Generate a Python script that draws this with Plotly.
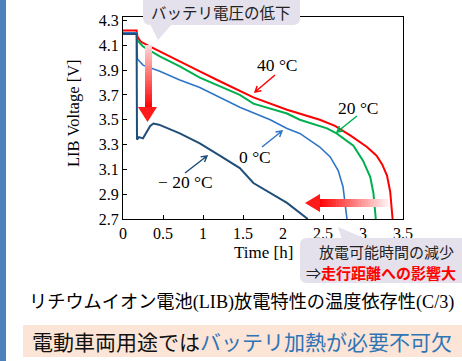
import plotly.graph_objects as go

# ---------------- data ----------------
t_40 = [0, 0.17, 0.18, 0.22, 0.34, 0.46, 0.71, 0.96, 1.21, 1.46, 1.63, 2.05, 2.46, 2.65, 2.85, 3.05, 3.17, 3.24, 3.30, 3.34, 3.37]
v_40 = [4.22, 4.22, 4.17, 4.13, 4.09, 4.05, 3.97, 3.89, 3.81, 3.73, 3.68, 3.58, 3.50, 3.45, 3.37, 3.28, 3.21, 3.14, 3.05, 2.92, 2.70]

t_20 = [0, 0.17, 0.18, 0.25, 0.46, 0.71, 0.96, 1.21, 1.46, 1.63, 2.05, 2.21, 2.55, 2.67, 2.88, 3.00, 3.09, 3.13, 3.16]
v_20 = [4.20, 4.20, 4.14, 4.09, 4.01, 3.93, 3.84, 3.77, 3.70, 3.63, 3.55, 3.50, 3.43, 3.39, 3.29, 3.17, 3.04, 2.91, 2.70]

t_0 = [0, 0.17, 0.18, 0.25, 0.46, 0.71, 0.96, 1.21, 1.46, 1.84, 2.05, 2.21, 2.46, 2.59, 2.69, 2.75, 2.80]
v_0 = [4.20, 4.20, 3.99, 3.94, 3.89, 3.82, 3.76, 3.68, 3.60, 3.50, 3.43, 3.39, 3.28, 3.20, 3.09, 2.96, 2.70]

t_m20 = [0, 0.17, 0.175, 0.20, 0.25, 0.30, 0.34, 0.38, 0.45, 0.71, 0.96, 1.21, 1.46, 1.63, 2.05, 2.31]
v_m20 = [4.19, 4.19, 3.34, 3.36, 3.35, 3.40, 3.45, 3.47, 3.46, 3.39, 3.31, 3.21, 3.11, 2.99, 2.83, 2.70]

x_ticks = [0, 0.5, 1, 1.5, 2, 2.5, 3, 3.5]
x_tick_labels = ["0", "0.5", "1", "1.5", "2", "2.5", "3", "3.5"]
y_ticks = [2.7, 2.9, 3.1, 3.3, 3.5, 3.7, 3.9, 4.1, 4.3]
y_tick_labels = ["2.7", "2.9", "3.1", "3.3", "3.5", "3.7", "3.9", "4.1", "4.3"]

series_labels = ["40 °C", "20 °C", "0 °C", "− 20 °C"]

# ---------------- layout geometry (pixels) ----------------
W, H = 462, 361
L, R, T, B = 123, 403, 17, 219

def P(x, y):
    return ((x - L) / (R - L), (B - y) / (B - T))

def path(cmds):
    s = ""
    for c in cmds:
        if c[0] == "Z":
            s += " Z"
            continue
        pts = c[1:]
        conv = []
        for i in range(0, len(pts), 2):
            px, py = P(pts[i], pts[i + 1])
            conv.append(f"{px:.5f},{py:.5f}")
        s += f" {c[0]} " + " ".join(conv)
    return s.strip()

def rrect(x0, y0, x1, y1, r):
    return path([("M", x0 + r, y0), ("L", x1 - r, y0), ("Q", x1, y0, x1, y0 + r),
                 ("L", x1, y1 - r), ("Q", x1, y1, x1 - r, y1), ("L", x0 + r, y1),
                 ("Q", x0, y1, x0, y1 - r), ("L", x0, y0 + r), ("Q", x0, y0, x0 + r, y0), ("Z",)])

shapes = []
annotations = []

def add_shape(p, fill, line_color=None, width=0, layer="above"):
    shapes.append(dict(type="path", xref="paper", yref="paper", path=p, fillcolor=fill,
                       line=dict(color=line_color or "rgba(0,0,0,0)", width=width), layer=layer))

def add_text(x, y, text, size, color="black", family="Liberation Serif, Noto Sans CJK JP",
             xanchor="center", angle=0):
    px, py = P(x, y)
    annotations.append(dict(x=px, y=py, xref="paper", yref="paper", text=text, showarrow=False,
                            xanchor=xanchor, yanchor="middle", textangle=angle,
                            font=dict(size=size, color=color, family=family)))

def v_arrow(tx, ty, hx, hy, color, hl=6.5):
    import math
    dx, dy = hx - tx, hy - ty
    n = math.hypot(dx, dy)
    ux, uy = dx / n, dy / n
    ang = math.radians(30)
    def rot(a):
        return (ux * math.cos(a) - uy * math.sin(a), ux * math.sin(a) + uy * math.cos(a))
    a1 = rot(ang); a2 = rot(-ang)
    p = path([("M", tx, ty), ("L", hx, hy), ("M", hx - hl * a1[0], hy - hl * a1[1]),
              ("L", hx, hy), ("L", hx - hl * a2[0], hy - hl * a2[1])])
    shapes.append(dict(type="path", xref="paper", yref="paper", path=p,
                       line=dict(color=color, width=1.5), layer="above"))

def mix(f):
    g = int(255 * (1 - f))
    return f"rgb(255,{g},{g})"

# ---------------- figure ----------------
fig = go.Figure()
for t, v, c, w in [(t_40, v_40, "#ff0000", 2), (t_20, v_20, "#00b050", 2),
                   (t_0, v_0, "#2e75c6", 1.6), (t_m20, v_m20, "#1f4e79", 2)]:
    fig.add_trace(go.Scatter(x=t, y=v, mode="lines", line=dict(color=c, width=w),
                             showlegend=False, hoverinfo="skip"))

# left blue stripe
add_shape(path([("M", 0, 0), ("L", 6, 0), ("L", 6, H), ("L", 0, H), ("Z",)]), "#4f81bd")
# bottom peach box
add_shape(path([("M", 23, 325), ("L", 462, 325), ("L", 462, 357), ("L", 23, 357), ("Z",)]), "#fce4d6")

# top callout
add_shape(rrect(143, -8, 300, 25, 7), "#e4e0ec")
add_shape(path([("M", 150, 24), ("L", 172, 24), ("L", 158, 40), ("Z",)]), "#e4e0ec")
# bottom callout
add_shape(rrect(300, 238, 470, 283, 7), "#e4e0ec")
add_shape(path([("M", 342, 239), ("L", 366, 239), ("L", 338, 227), ("Z",)]), "#e4e0ec")

# gradient down arrow
n = 24
y0s, y1s = 45, 108
for i in range(n):
    a = y0s + (y1s - y0s) * i / n
    b = y0s + (y1s - y0s) * (i + 1) / n + 0.6
    f = (i + 0.5) / n
    add_shape(path([("M", 145, a), ("L", 152, a), ("L", 152, b), ("L", 145, b), ("Z",)]), mix(0.15 + 0.85 * f))
add_shape(path([("M", 138, 107), ("L", 157, 107), ("L", 147.5, 122), ("Z",)]), "#ff1a1a")

# gradient left arrow
x0s, x1s = 319, 388
for i in range(n):
    a = x0s + (x1s - x0s) * i / n
    b = x0s + (x1s - x0s) * (i + 1) / n + 0.6
    f = 1 - (i + 0.5) / n
    add_shape(path([("M", a, 199), ("L", b, 199), ("L", b, 207), ("L", a, 207), ("Z",)]), mix(0.05 + 0.95 * f))
add_shape(path([("M", 320, 194), ("L", 320, 212), ("L", 305, 203), ("Z",)]), "#ff1a1a")

# curve labels with arrows
add_text(277, 65, series_labels[0], 17.5)
v_arrow(275, 75, 255, 92, "#ff0000")
add_text(358, 108, series_labels[1], 17.5)
v_arrow(357, 116, 337, 132, "#00b050")
add_text(255, 157, series_labels[2], 17.5)
v_arrow(262, 147, 282, 131, "#2e75c6")
add_text(185, 182, series_labels[3], 17.5)
v_arrow(185, 173, 207, 156, "#1f4e79")

# axis titles
add_text(73, 113, "LIB Voltage [V]", 16.5, angle=-90)
add_text(263, 253, "Time [h]", 17)

# callout texts
add_text(221, 12, "バッテリ電圧の低下", 15.5, color="#222222", family="Noto Sans CJK JP")
add_text(386, 252, "放電可能時間の減少", 15, color="#222222", family="Noto Sans CJK JP")
add_text(304, 272, "⇒<span style='color:#ff0000'><b>走行距離への影響大</b></span>", 15,
         color="#222222", family="Noto Sans CJK JP", xanchor="left")

# caption
add_text(27, 302, "リチウムイオン電池(LIB)放電特性の温度依存性(C/3)", 18.2,
         family="Liberation Serif, Noto Sans CJK JP", xanchor="left")
# bottom message
add_text(30, 341, "電動車両用途では<span style='color:#2e75b6'>バッテリ加熱が必要不可欠</span>", 21,
         color="#111111", family="Noto Sans CJK JP", xanchor="left")

axis_common = dict(showline=True, linecolor="black", linewidth=1.3, mirror=True, showgrid=False,
                   zeroline=False, ticks="inside", ticklen=4, tickcolor="black",
                   tickfont=dict(family="Liberation Serif", size=16, color="black"))

fig.update_layout(
    width=W, height=H,
    margin=dict(l=L, r=W - R, t=T, b=H - B),
    paper_bgcolor="white", plot_bgcolor="white",
    xaxis=dict(range=[0, 3.5], tickvals=x_ticks, ticktext=x_tick_labels, **axis_common),
    yaxis=dict(range=[2.7, 4.328], tickvals=y_ticks, ticktext=y_tick_labels, **axis_common),
    shapes=shapes, annotations=annotations,
)

fig.write_html("out.html", config={"displayModeBar": False},
               post_script="document.body.style.margin='0';document.body.style.padding='0';")
